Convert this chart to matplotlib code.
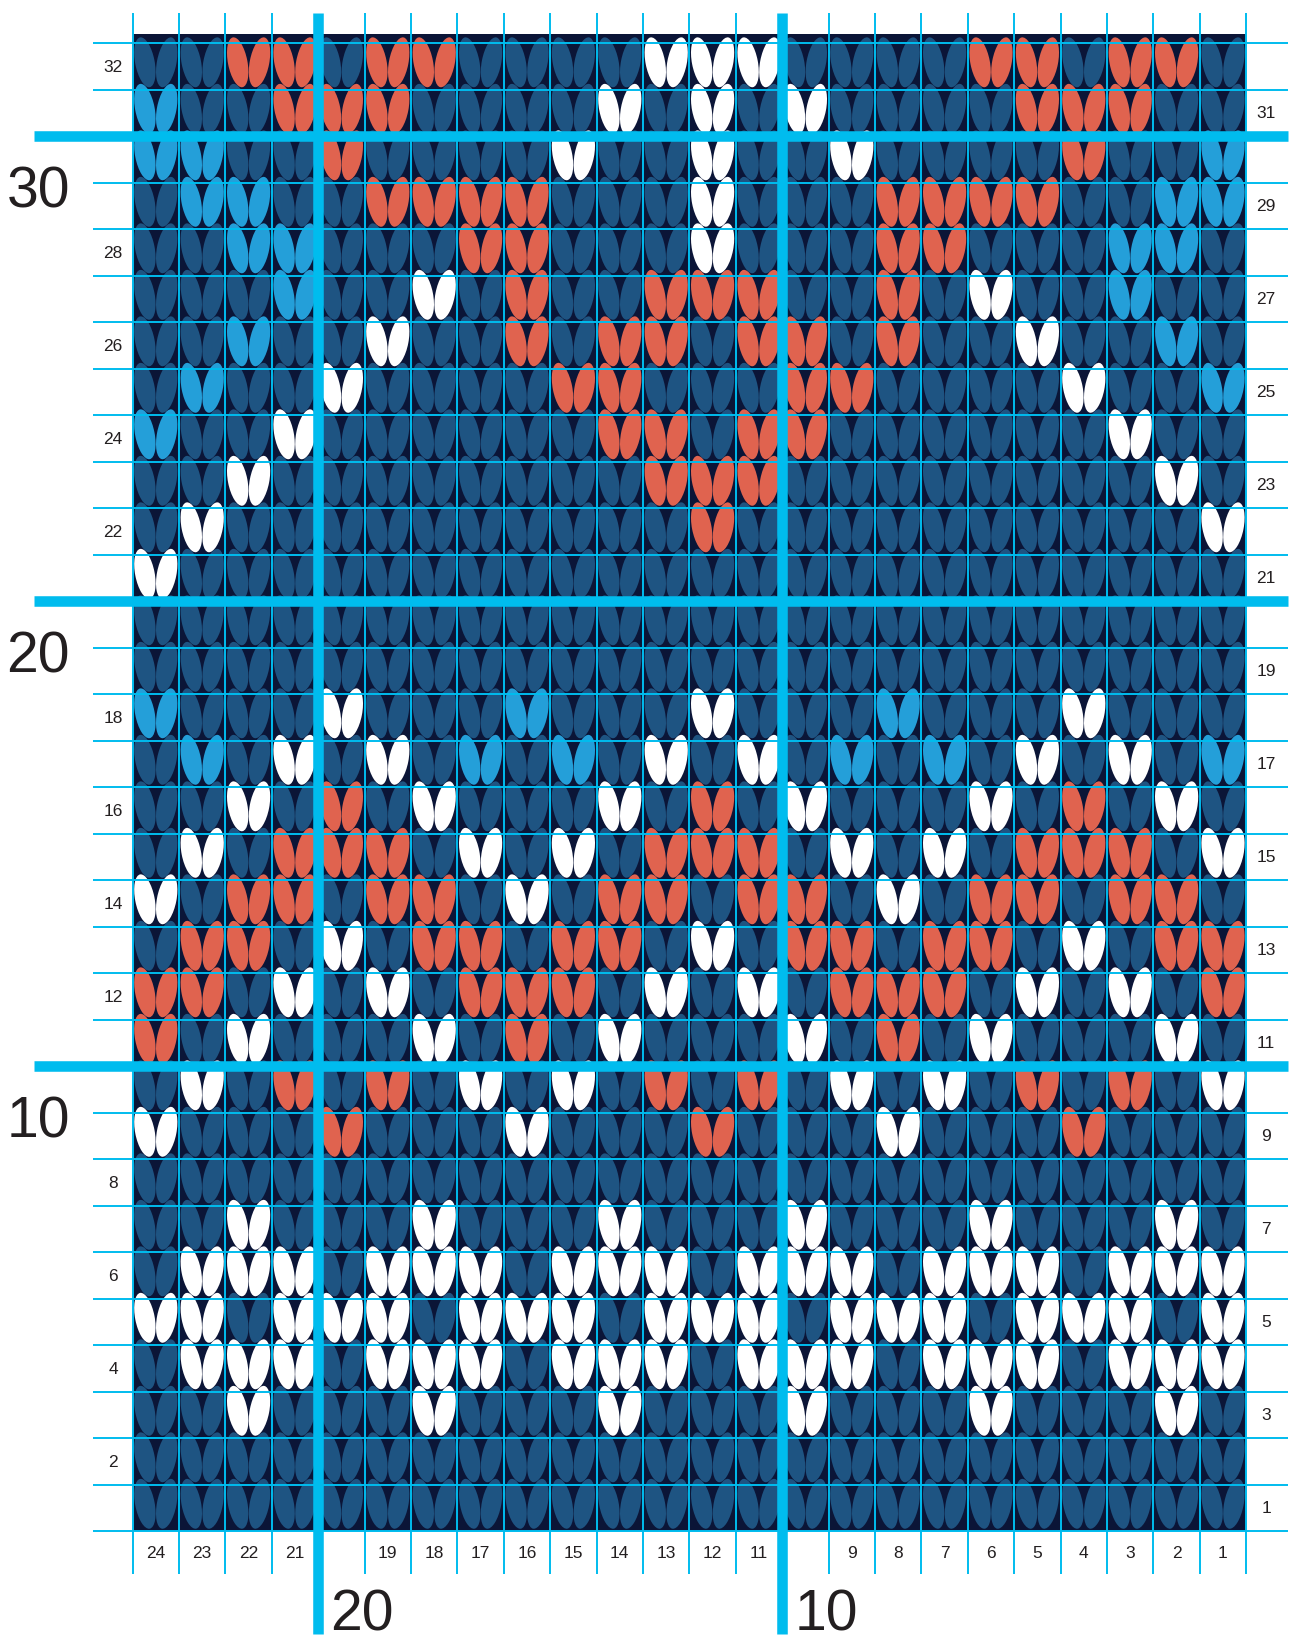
import matplotlib
matplotlib.use('Agg')
import matplotlib.pyplot as plt
from matplotlib.patches import Ellipse, Rectangle

# Color de cada punto, una cadena por vuelta, de la vuelta 32 (arriba) a la 1 (abajo)
# Cada cadena se lee de izquierda (punto 24) a derecha (punto 1)
# N = azul marino, W = blanco, R = rojo, B = azul claro
chart_rows = [
    "NNRRNRRNNNNWWWNNNNRRNRRN",  # 32
    "BNNRRRNNNNWNWNWNNNNRRRNN",  # 31
    "BBNNRNNNNWNNWNNWNNNNRNNB",  # 30
    "NBBNNRRRRNNNWNNNRRRRNNBB",  # 29
    "NNBBNNNRRNNNWNNNRRNNNBBN",  # 28
    "NNNBNNWNRNNRRRNNRNWNNBNN",  # 27
    "NNBNNWNNRNRRNRRNRNNWNNBN",  # 26
    "NBNNWNNNNRRNNNRRNNNNWNNB",  # 25
    "BNNWNNNNNNRRNRRNNNNNNWNN",  # 24
    "NNWNNNNNNNNRRRNNNNNNNNWN",  # 23
    "NWNNNNNNNNNNRNNNNNNNNNNW",  # 22
    "WNNNNNNNNNNNNNNNNNNNNNNN",  # 21
    "NNNNNNNNNNNNNNNNNNNNNNNN",  # 20
    "NNNNNNNNNNNNNNNNNNNNNNNN",  # 19
    "BNNNWNNNBNNNWNNNBNNNWNNN",  # 18
    "NBNWNWNBNBNWNWNBNBNWNWNB",  # 17
    "NNWNRNWNNNWNRNWNNNWNRNWN",  # 16
    "NWNRRRNWNWNRRRNWNWNRRRNW",  # 15
    "WNRRNRRNWNRRNRRNWNRRNRRN",  # 14
    "NRRNWNRRNRRNWNRRNRRNWNRR",  # 13
    "RRNWNWNRRRNWNWNRRRNWNWNR",  # 12
    "RNWNNNWNRNWNNNWNRNWNNNWN",  # 11
    "NWNRNRNWNWNRNRNWNWNRNRNW",  # 10
    "WNNNRNNNWNNNRNNNWNNNRNNN",  # 9
    "NNNNNNNNNNNNNNNNNNNNNNNN",  # 8
    "NNWNNNWNNNWNNNWNNNWNNNWN",  # 7
    "NWWWNWWWNWWWNWWWNWWWNWWW",  # 6
    "WWNWWWNWWWNWWWNWWWNWWWNW",  # 5
    "NWWWNWWWNWWWNWWWNWWWNWWW",  # 4
    "NNWNNNWNNNWNNNWNNNWNNNWN",  # 3
    "NNNNNNNNNNNNNNNNNNNNNNNN",  # 2
    "NNNNNNNNNNNNNNNNNNNNNNNN",  # 1
]

# Etiquetas de los puntos (abajo), de izquierda a derecha; 20 y 10 van en grande
col_labels = ['24', '23', '22', '21', '', '19', '18', '17', '16', '15', '14', '13',
              '12', '11', '', '9', '8', '7', '6', '5', '4', '3', '2', '1']
left_row_labels = [32, 28, 26, 24, 22, 18, 16, 14, 12, 8, 6, 4, 2]
right_row_labels = [31, 29, 27, 25, 23, 21, 19, 17, 15, 13, 11, 9, 7, 5, 3, 1]
big_row_labels = [30, 20, 10]
big_col_labels = [20, 10]

colores = {'N': '#1e5482', 'W': '#ffffff', 'R': '#e0634f', 'B': '#249fd9'}
color_fondo = '#0b1537'
color_rejilla = '#00bcee'
color_texto = '#231f20'

n_rows = len(chart_rows)
n_cols = len(chart_rows[0])

# Geometria de la figura en pixeles
ancho_px, alto_px = 1290, 1649
x0_px, celda_w = 132.6, 46.4
y0_px, celda_h = 44.0, 46.5

plt.rcParams['font.family'] = ['Liberation Sans', 'DejaVu Sans']

fig = plt.figure(figsize=(ancho_px / 100, alto_px / 100), dpi=100)
ax = fig.add_axes([0, 0, 1, 1])
ax.set_xlim(-x0_px / celda_w, (ancho_px - x0_px) / celda_w)
ax.set_ylim(n_rows - (alto_px - y0_px) / celda_h, n_rows + y0_px / celda_h)
ax.axis('off')

# Fondo oscuro del grafico
ax.add_patch(Rectangle((0, 0), n_cols, n_rows + 0.19, facecolor=color_fondo,
                       edgecolor='none', zorder=1))

# Puntos en forma de V: dos elipses inclinadas por celda
# Las vueltas de abajo se dibujan encima de las de arriba
for k, fila in enumerate(chart_rows):
    vuelta = n_rows - k
    y_c = vuelta - 1 + 0.585
    for i, c in enumerate(fila):
        col = colores[c]
        z = 2 + k * 0.01
        ax.add_patch(Ellipse((i + 0.265, y_c), 0.42, 1.09, angle=11,
                             facecolor=col, edgecolor='none', zorder=z))
        ax.add_patch(Ellipse((i + 0.735, y_c), 0.42, 1.09, angle=-11,
                             facecolor=col, edgecolor='none', zorder=z))

# Rejilla fina
lineas_h = [r for r in range(n_rows + 1) if r not in big_row_labels]
lineas_v = [x for x in range(n_cols + 1) if (n_cols - x) not in big_col_labels]
ax.hlines(lineas_h, -0.85, 24.9, colors=color_rejilla, lw=1.4, zorder=5)
ax.vlines(lineas_v, -0.93, 32.65, colors=color_rejilla, lw=1.4, zorder=5)

# Lineas gruesas cada 10
ax.hlines(big_row_labels, -2.13, 24.9, colors=color_rejilla, lw=7.6, zorder=6)
ax.vlines([n_cols - c for c in big_col_labels], -2.22, 32.65, colors=color_rejilla,
          lw=7.6, zorder=6)

# Etiquetas de los puntos
for i, lab in enumerate(col_labels):
    ax.text(i + 0.5, -0.46, lab, ha='center', va='center', fontsize=12.5, color=color_texto)

# Etiquetas de las vueltas
for r in left_row_labels:
    ax.text(-0.42, r - 0.5, str(r), ha='center', va='center', fontsize=12.5, color=color_texto)
for r in right_row_labels:
    ax.text(24.43, r - 0.5, str(r), ha='center', va='center', fontsize=12.5, color=color_texto)

# Etiquetas grandes
for r in big_row_labels:
    ax.text(-2.72, r - 1.19, str(r), ha='left', va='center', fontsize=41, color=color_texto)
for c in big_col_labels:
    ax.text(n_cols - c + 0.26, -1.8, str(c), ha='left', va='center', fontsize=41,
            color=color_texto)

fig.savefig('out.png', dpi=100)
